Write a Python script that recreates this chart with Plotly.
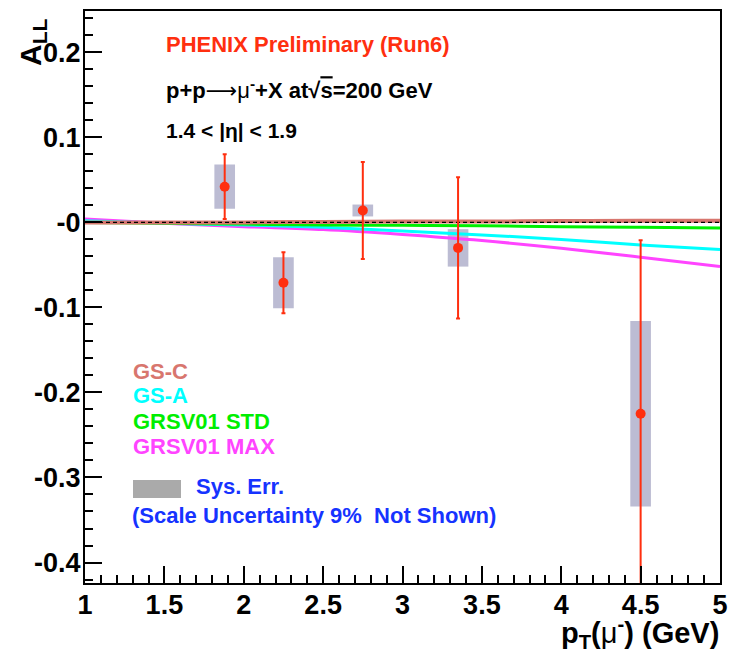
import plotly.graph_objects as go

# Measured double-helicity asymmetry for negative muons
pt = [1.88, 2.25, 2.75, 3.35, 4.50]
a_ll = [0.042, -0.071, 0.014, -0.030, -0.225]
stat_err = [0.038, 0.036, 0.057, 0.083, 0.204]
sys_err = [0.026, 0.030, 0.007, 0.022, 0.109]

# Theory curves
pt_curve = [1.0, 1.5, 2.0, 2.5, 3.0, 3.5, 4.0, 4.5, 5.0]
gs_c = [0.000, 0.000, 0.000, 0.0005, 0.001, 0.001, 0.0015, 0.002, 0.002]
gs_a = [0.002, -0.001, -0.003, -0.0057, -0.010, -0.0147, -0.020, -0.0265, -0.032]
grsv_std = [0.000, -0.001, -0.002, -0.003, -0.0035, -0.004, -0.005, -0.0058, -0.0065]
grsv_max = [0.004, -0.001, -0.005, -0.0085, -0.0143, -0.0214, -0.0304, -0.041, -0.052]

y_tick_vals = [0.2, 0.1, 0.0, -0.1, -0.2, -0.3, -0.4]
y_tick_text = ["0.2", "0.1", "-0", "-0.1", "-0.2", "-0.3", "-0.4"]
x_tick_vals = [1, 1.5, 2, 2.5, 3, 3.5, 4, 4.5, 5]
x_tick_text = ["1", "1.5", "2", "2.5", "3", "3.5", "4", "4.5", "5"]

FONT = "Liberation Sans, Arial, Helvetica, sans-serif"
RED = "#ff2f0f"
BLUE = "#1633ff"
SALMON = "#d8766e"
CYAN = "#00ffff"
GREEN = "#00ee00"
MAGENTA = "#ff44ff"

W, H = 734, 655
L, R, T, B = 85, 720, 11, 583

ARROW = "<span style='font-family:DejaVu Sans;font-weight:normal'>\u27f6</span>"
MU = "<span style='font-weight:normal'>\u03bc</span>"


def px_x(px):
    return (px - L) / (R - L)


def px_y(py):
    return (B - py) / (B - T)


fig = go.Figure()

# systematic uncertainty boxes
fig.add_trace(go.Bar(
    x=pt,
    base=[a - s for a, s in zip(a_ll, sys_err)],
    y=[2 * s for s in sys_err],
    width=0.13,
    marker=dict(color="#bcbcd3", line=dict(width=0)),
    showlegend=False,
))

for vals, col, w in [(grsv_max, MAGENTA, 3), (gs_a, CYAN, 3),
                     (grsv_std, GREEN, 3), (gs_c, SALMON, 4)]:
    fig.add_trace(go.Scatter(
        x=pt_curve, y=vals, mode="lines",
        line=dict(color=col, width=w, shape="spline"),
        showlegend=False,
    ))

# zero reference line
fig.add_trace(go.Scatter(
    x=[pt_curve[0], pt_curve[-1]], y=[0, 0], mode="lines",
    line=dict(color="black", width=1.2, dash="4px,3px"),
    showlegend=False,
))

fig.add_trace(go.Scatter(
    x=pt, y=a_ll, mode="markers",
    marker=dict(color=RED, size=10),
    error_y=dict(type="data", array=stat_err, color=RED, thickness=2, width=2),
    showlegend=False,
))

axis_common = dict(
    showline=True, linecolor="black", linewidth=2, mirror=True,
    ticks="inside", ticklen=17, tickwidth=2, tickcolor="black",
    showgrid=False, zeroline=False, automargin=False,
    tickfont=dict(family=FONT, size=27, color="black", weight="bold"),
    tickmode="array",
)

fig.update_xaxes(
    range=[1, 5], tickvals=x_tick_vals, ticktext=x_tick_text,
    ticklabelstandoff=-3,
    minor=dict(ticks="inside", ticklen=8, tickwidth=2, tickcolor="black",
               tick0=1, dtick=0.1, showgrid=False),
    **axis_common,
)
fig.update_yaxes(
    range=[-0.4241, 0.2486], tickvals=y_tick_vals, ticktext=y_tick_text,
    ticklabelstandoff=-3,
    minor=dict(ticks="inside", ticklen=8, tickwidth=2, tickcolor="black",
               tick0=0, dtick=0.02, showgrid=False),
    **axis_common,
)


def label(text, px, py, size, color="black", xanchor="left", yanchor="middle", angle=0):
    fig.add_annotation(
        text=text, xref="paper", yref="paper", x=px_x(px), y=px_y(py),
        xanchor=xanchor, yanchor=yanchor, showarrow=False, textangle=angle,
        font=dict(family=FONT, size=size, color=color, weight="bold"),
    )


label("PHENIX Preliminary (Run6)", 164, 44, 22, RED)
label("p+p" + ARROW + MU + "<sup>-</sup>+X at\u221a<span style='text-decoration:overline'>s</span>=200 GeV",
      164, 89, 22)
label("1.4 < |\u03b7| < 1.9", 164, 130, 21)

label("GS-C", 131, 371, 22, SALMON)
label("GS-A", 131, 395, 22, CYAN)
label("GRSV01 STD", 131, 421, 22, GREEN)
label("GRSV01 MAX", 131, 446, 22, MAGENTA)
label("Sys. Err.", 194, 486, 22, BLUE)
label("(Scale Uncertainty 9%  Not Shown)", 130, 515, 22, BLUE)

# legend swatch for systematic errors
fig.add_shape(type="rect", xref="paper", yref="paper",
              x0=px_x(133), x1=px_x(181), y0=px_y(480), y1=px_y(498),
              fillcolor="#aaaaaa", line=dict(width=0))

# axis titles
label("p<sub>T</sub>(" + MU + "<sup>-</sup>) (GeV)", 721, 611, 29,
      xanchor="right", yanchor="top")
label("A<sub>LL</sub>", 32, 16, 30, xanchor="center", yanchor="top", angle=-90)

fig.update_layout(
    width=W, height=H,
    margin=dict(l=L, r=W - R, t=T, b=H - B),
    paper_bgcolor="white", plot_bgcolor="white",
    barmode="overlay", hovermode=False,
    font=dict(family=FONT),
)

fig.write_html("out.html")
